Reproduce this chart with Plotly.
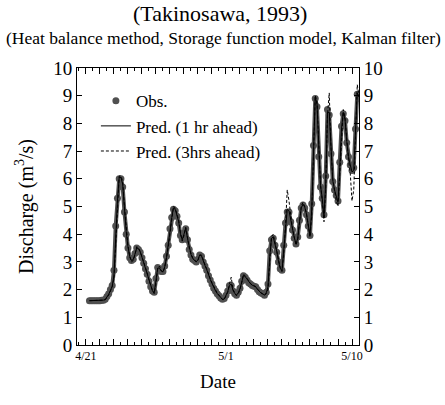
import pandas as pd
import plotly.graph_objects as go

# ---- data (3-hourly, starting 1993-04-21 06:00) ----
start = "1993-04-21 06:00"
obs = [1.6, 1.6, 1.6, 1.6, 1.6, 1.6, 1.6, 1.62, 1.62, 1.65,
       1.75, 1.85, 2.0, 2.15, 2.7, 4.3, 5.3, 6.0, 6.0, 5.7,
       4.8, 4.0, 3.5, 3.15, 3.05, 3.1, 3.3, 3.5, 3.45, 3.35,
       3.15, 2.95, 2.75, 2.55, 2.3, 2.1, 1.95, 1.9, 2.4, 2.8,
       2.75, 2.65, 2.65, 2.85, 3.2, 3.6, 4.2, 4.6, 4.9, 4.85,
       4.65, 4.4, 3.95, 3.8, 4.05, 4.2, 3.8, 3.45, 3.25, 3.1,
       3.05, 3.0, 3.1, 3.25, 3.2, 3.0, 2.85, 2.7, 2.5, 2.35,
       2.2, 2.05, 1.95, 1.85, 1.78, 1.7, 1.65, 1.68, 1.8, 1.95,
       2.15, 2.15, 1.95, 1.85, 1.8, 1.9, 2.05, 2.3, 2.5, 2.45,
       2.35, 2.25, 2.2, 2.15, 2.12, 2.1, 2.0, 1.92, 1.88, 1.85,
       1.8, 1.9, 2.2, 3.4, 3.8, 3.85, 3.6, 3.35, 3.0, 2.75,
       2.7, 3.6, 4.4, 4.8, 4.8, 4.45, 4.15, 3.85, 3.65, 3.9,
       4.5, 4.95, 5.05, 4.95, 4.7, 4.3, 3.95, 5.1, 7.2, 8.9,
       8.6, 6.8, 5.7, 5.3, 4.7, 6.1, 8.5, 8.3, 6.9, 5.9,
       5.6, 5.4, 5.2, 6.6, 7.9, 8.35, 8.1, 7.3, 6.8, 6.5,
       6.3, 6.4, 7.8, 9.05, 8.9]
pred1 = [1.6, 1.6, 1.6, 1.6, 1.6, 1.6, 1.6, 1.62, 1.62, 1.64,
         1.72, 1.83, 1.97, 2.12, 2.5, 3.9, 5.2, 6.05, 6.05, 5.8,
         4.9, 4.1, 3.55, 3.2, 3.05, 3.08, 3.28, 3.5, 3.48, 3.36,
         3.17, 2.97, 2.77, 2.57, 2.32, 2.12, 1.96, 1.88, 2.3, 2.78,
         2.78, 2.67, 2.64, 2.82, 3.15, 3.55, 4.1, 4.6, 4.95, 4.9,
         4.7, 4.45, 4.0, 3.8, 4.0, 4.22, 3.85, 3.48, 3.27, 3.12,
         3.06, 3.0, 3.08, 3.25, 3.22, 3.02, 2.87, 2.72, 2.52, 2.37,
         2.22, 2.07, 1.96, 1.86, 1.79, 1.71, 1.65, 1.66, 1.78, 1.93,
         2.15, 2.2, 1.98, 1.86, 1.8, 1.88, 2.03, 2.28, 2.52, 2.47,
         2.37, 2.26, 2.21, 2.16, 2.13, 2.1, 2.01, 1.93, 1.88, 1.85,
         1.8, 1.88, 2.1, 3.2, 3.85, 3.9, 3.65, 3.38, 3.02, 2.77,
         2.68, 3.45, 4.35, 4.9, 4.85, 4.5, 4.18, 3.88, 3.65, 3.85,
         4.45, 4.95, 5.08, 4.98, 4.72, 4.32, 3.95, 4.9, 7.0, 8.95,
         8.7, 6.9, 5.75, 5.3, 4.6, 5.9, 8.4, 8.4, 7.0, 5.95,
         5.6, 5.4, 5.15, 6.4, 7.8, 8.4, 8.15, 7.35, 6.8, 6.5,
         6.25, 6.3, 7.6, 9.1, 8.95]
pred3 = [1.6, 1.6, 1.6, 1.6, 1.6, 1.6, 1.6, 1.62, 1.62, 1.63,
         1.7, 1.8, 1.95, 2.1, 2.4, 3.6, 5.0, 6.1, 6.1, 5.9,
         5.0, 4.2, 3.6, 3.2, 3.0, 3.05, 3.25, 3.55, 3.5, 3.38,
         3.2, 3.0, 2.8, 2.6, 2.35, 2.15, 1.97, 1.85, 2.2, 2.75,
         2.85, 2.7, 2.62, 2.8, 3.1, 3.5, 4.0, 4.55, 5.0, 4.95,
         4.75, 4.5, 4.05, 3.75, 3.95, 4.25, 3.9, 3.5, 3.3, 3.15,
         3.08, 3.0, 3.05, 3.25, 3.25, 3.05, 2.9, 2.75, 2.55, 2.4,
         2.25, 2.1, 1.98, 1.87, 1.8, 1.72, 1.64, 1.64, 1.75, 1.9,
         2.2, 2.45, 2.0, 1.86, 1.78, 1.85, 2.0, 2.25, 2.55, 2.5,
         2.4, 2.28, 2.22, 2.17, 2.14, 2.11, 2.02, 1.94, 1.88, 1.84,
         1.8, 1.85, 2.0, 3.0, 3.9, 4.0, 3.7, 3.4, 3.05, 2.8,
         2.65, 3.3, 4.3, 5.6, 5.2, 4.6, 4.2, 3.9, 3.6, 3.8,
         4.4, 5.0, 5.15, 5.0, 4.75, 4.35, 3.9, 4.7, 6.8, 9.0,
         8.8, 7.0, 5.8, 5.2, 4.45, 5.7, 8.3, 9.1, 7.1, 6.0,
         5.5, 5.2, 5.0, 6.2, 7.7, 8.5, 8.2, 7.4, 6.7, 6.2,
         5.2, 5.6, 7.4, 9.4, 9.0]

times = pd.date_range(start, periods=len(obs), freq="3h")

day_ticks = pd.date_range("1993-04-21", "1993-05-10", freq="D")
day_labels = {"1993-04-21": "4/21", "1993-05-01": "5/1", "1993-05-10": "5/10"}
tick_text = [day_labels.get(d.strftime("%Y-%m-%d"), "") for d in day_ticks]
y_ticks = list(range(0, 11))

SERIF = "Liberation Serif, Times New Roman, serif"
OBS_GRAY = "#505050"

fig = go.Figure()
# dense observation band (same observed series, drawn as a soft underlay)
fig.add_trace(go.Scatter(
    x=times, y=obs, mode="lines", showlegend=False, hoverinfo="skip",
    line=dict(color=OBS_GRAY, width=4),
))
fig.add_trace(go.Scatter(
    x=times, y=obs, mode="markers", name="Obs.",
    marker=dict(size=7, color=OBS_GRAY, line=dict(width=0)),
))
fig.add_trace(go.Scatter(
    x=times, y=pred1, mode="lines", name="Pred. (1 hr ahead)",
    line=dict(color="black", width=1),
))
fig.add_trace(go.Scatter(
    x=times, y=pred3, mode="lines", name="Pred. (3hrs ahead)",
    line=dict(color="black", width=1, dash="3px,2px"),
))
# carrier for the right-hand axis
fig.add_trace(go.Scatter(
    x=times, y=obs, mode="markers", yaxis="y2", showlegend=False,
    marker=dict(opacity=0), hoverinfo="skip",
))

fig.update_layout(
    width=445, height=405,
    margin=dict(l=77, r=86, t=68, b=60),
    paper_bgcolor="white", plot_bgcolor="white",
    font=dict(family=SERIF, color="black"),
    showlegend=True,
    legend=dict(
        x=0.067, y=0.945, xanchor="left", yanchor="top",
        bgcolor="rgba(0,0,0,0)", font=dict(size=17, family=SERIF),
        itemwidth=30, tracegroupgap=0,
    ),
    xaxis=dict(
        type="date",
        range=["1993-04-20 08:40", "1993-05-10 12:00"],
        tickvals=day_ticks, ticktext=tick_text,
        ticks="inside", ticklen=6, tickwidth=1, tickcolor="black",
        minor=dict(dtick=12 * 3600 * 1000, tick0="1993-04-21 12:00",
                   ticks="inside", ticklen=3, tickcolor="black", showgrid=False),
        showline=True, linecolor="black", linewidth=1, mirror="ticks",
        showgrid=False, zeroline=False,
        tickfont=dict(size=12, family=SERIF),
        title=dict(text="Date", font=dict(size=19, family=SERIF), standoff=12),
    ),
    yaxis=dict(
        range=[0, 10], tickvals=y_ticks,
        ticks="inside", ticklen=5, tickcolor="black",
        showline=True, linecolor="black", linewidth=1,
        showgrid=False, zeroline=False,
        tickfont=dict(size=19, family=SERIF),
        title=dict(text="Discharge (m<sup>3</sup>/s)", font=dict(size=20, family=SERIF), standoff=14),
    ),
    yaxis2=dict(
        range=[0, 10], tickvals=y_ticks, overlaying="y", side="right",
        ticks="inside", ticklen=5, tickcolor="black",
        showline=True, linecolor="black", linewidth=1,
        showgrid=False, zeroline=False,
        tickfont=dict(size=19, family=SERIF),
    ),
)

plot_h = 405 - 68 - 60
plot_w = 445 - 77 - 86
fig.add_annotation(text="(Takinosawa, 1993)", xref="paper", yref="paper",
                   x=(220 - 77) / plot_w, y=1 + (68 - 13) / plot_h,
                   yanchor="middle", showarrow=False,
                   font=dict(size=22, family=SERIF))
fig.add_annotation(text="(Heat balance method, Storage function model, Kalman filter)",
                   xref="paper", yref="paper",
                   x=(223 - 77) / plot_w, y=1 + (68 - 38) / plot_h,
                   yanchor="middle", showarrow=False,
                   font=dict(size=17.5, family=SERIF))

fig.write_html("out.html")
